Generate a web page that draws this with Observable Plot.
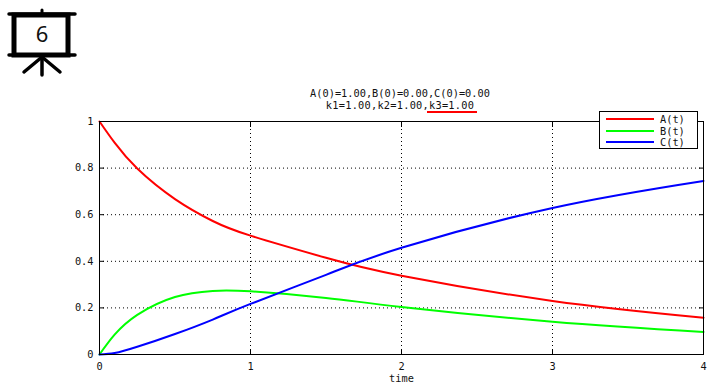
<!DOCTYPE html>
<html>
<head>
<meta charset="utf-8">
<script src="https://cdn.jsdelivr.net/npm/d3@7"></script>
<script src="https://cdn.jsdelivr.net/npm/@observablehq/plot@0.6"></script>
<style>
html,body{margin:0;padding:0;background:#fff;}
#wrap{position:relative;width:728px;height:388px;overflow:hidden;font-family:"DejaVu Sans Mono",monospace;font-size:10.3px;color:#111;}
#wrap svg{display:block;}
.title{position:absolute;left:0;width:800px;text-align:center;white-space:pre;line-height:12px;}
#legend{position:absolute;left:599px;top:111px;width:97px;height:36px;background:#fff;border:1px solid #000;}
#legend .row{position:absolute;left:6px;height:12px;line-height:12px;}
#legend .swatch{position:absolute;left:0;top:5px;width:48px;height:2px;}
#legend .name{position:absolute;left:54px;top:0;}
#underline{position:absolute;left:427px;top:111px;width:50px;height:2px;background:#f00;}
#icon{position:absolute;left:0;top:0;}
</style>
</head>
<body>
<div id="wrap"></div>
<script>
const times = [0, 0.1, 0.25, 0.5, 0.75, 1, 1.5, 2, 3, 4];
const seriesA = [1, 0.909, 0.798, 0.667, 0.573, 0.51, 0.415, 0.338, 0.23, 0.158];
const seriesB = [0, 0.085, 0.17, 0.247, 0.273, 0.271, 0.243, 0.204, 0.141, 0.097];
const seriesC = [0, 0.006, 0.033, 0.088, 0.15, 0.217, 0.342, 0.458, 0.629, 0.745];
const names = ["A(t)", "B(t)", "C(t)"];
const colors = ["#ff0000", "#00ff00", "#0000ff"];
const xTicks = [0, 1, 2, 3, 4];
const yTicks = [0, 0.2, 0.4, 0.6, 0.8, 1];
const titleLines = ["A(0)=1.00,B(0)=0.00,C(0)=0.00", "k1=1.00,k2=1.00,k3=1.00"];
const iconLabel = "6";

const values = [seriesA, seriesB, seriesC];
const curves = names.map((n, i) => times.map((t, j) => ({t, v: values[i][j], n})));
const dots = "1,3";
const ink = "#000";

const plot = Plot.plot({
  width: 728, height: 388,
  marginLeft: 99, marginRight: 25, marginTop: 121, marginBottom: 34,
  style: {fontFamily: '"DejaVu Sans Mono",monospace', fontSize: "10.3px", color: "#111", background: "#fff"},
  x: {domain: [0, 4], ticks: xTicks},
  y: {domain: [0, 1], ticks: yTicks},
  marks: [
    Plot.gridX(xTicks, {stroke: ink, strokeOpacity: 1, strokeDasharray: dots}),
    Plot.gridY(yTicks, {stroke: ink, strokeOpacity: 1, strokeDasharray: dots}),
    Plot.axisX({ticks: xTicks, tickSize: -5, tickPadding: 13, label: "time", labelAnchor: "center", labelArrow: "none", labelOffset: 27, stroke: ink, tickFormat: d3.format("d")}),
    Plot.axisX({ticks: xTicks, anchor: "top", tickSize: -5, label: null, tickFormat: () => "", stroke: ink}),
    Plot.axisY({ticks: yTicks, tickSize: -5, tickPadding: 11, label: null, stroke: ink, tickFormat: d => String(d)}),
    Plot.axisY({ticks: yTicks, anchor: "right", tickSize: -5, label: null, tickFormat: () => "", stroke: ink}),
    ...curves.map((c, i) => Plot.line(c, {x: "t", y: "v", stroke: colors[i], strokeWidth: 2, curve: "natural"})),
    Plot.frame({stroke: ink, strokeWidth: 1})
  ]
});

const wrap = document.getElementById("wrap");
wrap.appendChild(plot);

titleLines.forEach((line, i) => {
  const d = document.createElement("div");
  d.className = "title";
  d.style.top = (87 + i * 12) + "px";
  if (i === 1) d.style.letterSpacing = "0.25px";
  d.textContent = line;
  wrap.appendChild(d);
});
const u = document.createElement("div");
u.id = "underline";
wrap.appendChild(u);

const lg = document.createElement("div");
lg.id = "legend";
names.forEach((n, i) => {
  const r = document.createElement("div");
  r.className = "row";
  r.style.top = (1 + i * 11.7) + "px";
  r.style.width = "90px";
  const s = document.createElement("div");
  s.className = "swatch";
  s.style.background = colors[i];
  const t = document.createElement("div");
  t.className = "name";
  t.textContent = n;
  r.append(s, t);
  lg.appendChild(r);
});
wrap.appendChild(lg);

const icon = document.createElementNS("http://www.w3.org/2000/svg", "svg");
icon.id = "icon";
icon.setAttribute("width", 90);
icon.setAttribute("height", 85);
icon.innerHTML = `
<g stroke="#000" stroke-linecap="round" fill="none">
  <line x1="42" y1="10" x2="42" y2="14" stroke-width="3"/>
  <line x1="9" y1="14" x2="75" y2="14" stroke-width="3.5"/>
  <line x1="9" y1="55" x2="75" y2="55" stroke-width="3.5"/>
  <rect x="14" y="15" width="54" height="40" stroke-width="5" stroke-linecap="butt"/>
  <line x1="42" y1="56" x2="42" y2="75" stroke-width="3.5"/>
  <line x1="42" y1="57" x2="24" y2="72" stroke-width="3.5"/>
  <line x1="42" y1="57" x2="60" y2="72" stroke-width="3.5"/>
</g>
<text x="42" y="42" text-anchor="middle" font-family="'Noto Sans',sans-serif" font-size="22" fill="#111"></text>`;
icon.querySelector("text").textContent = iconLabel;
wrap.appendChild(icon);
</script>
</body>
</html>
